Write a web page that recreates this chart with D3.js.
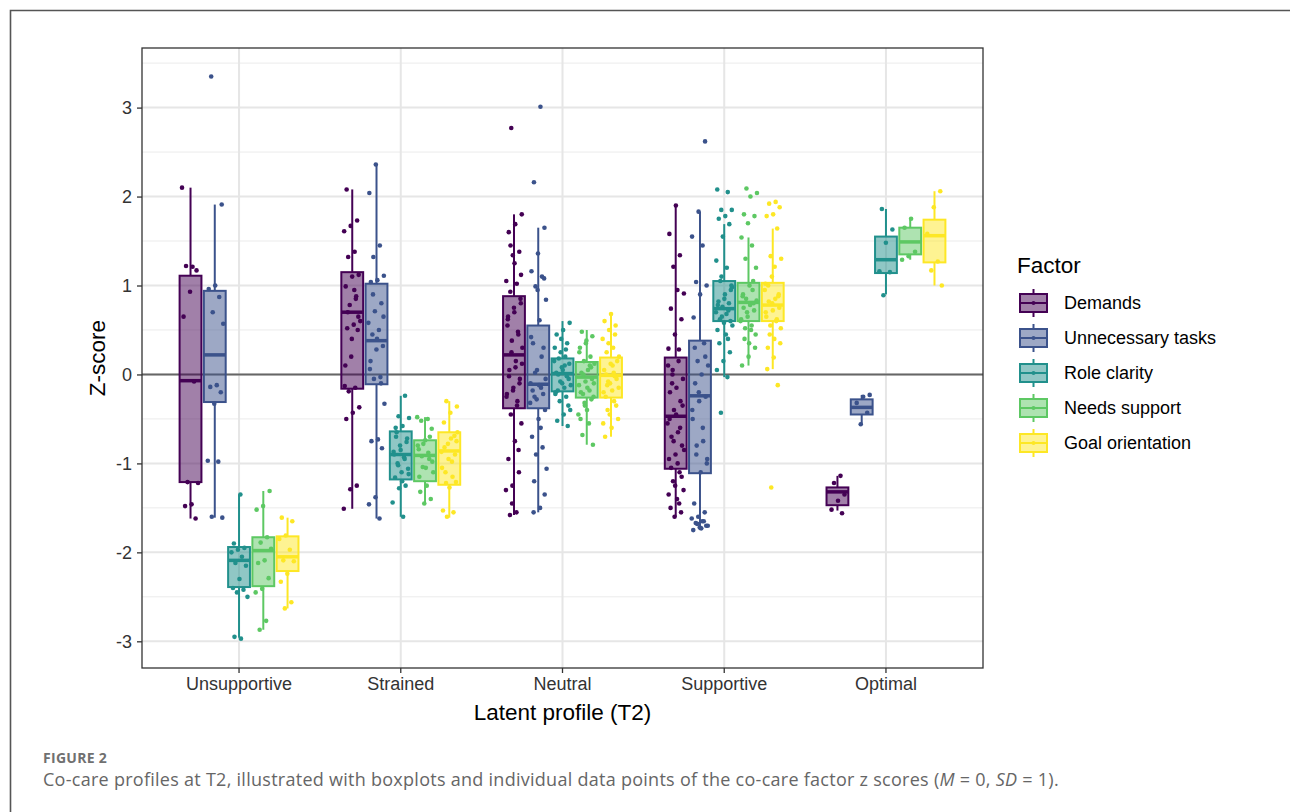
<!DOCTYPE html>
<html>
<head>
<meta charset="utf-8">
<script src="https://cdn.jsdelivr.net/npm/d3@7.9.0/dist/d3.min.js"></script>
<style>
  body { margin: 0; background: #fff; }
  svg { display: block; }
</style>
</head>
<body>
<svg width="1290" height="812"></svg>
<script>
const profiles = ['Unsupportive', 'Strained', 'Neutral', 'Supportive', 'Optimal'];
const factors = ['Demands', 'Unnecessary tasks', 'Role clarity', 'Needs support', 'Goal orientation'];
const factorColors = ['#440154', '#3b528b', '#21908c', '#5dc863', '#fde725'];
const yTicks = [-3, -2, -1, 0, 1, 2, 3];

// boxplot stats, one row per profile: [lower whisker, q1, median, q3, upper whisker]
const demandsBox = [[-1.62, -1.21, -0.07, 1.11, 2.10], [-1.51, -0.16, 0.70, 1.15, 2.08], [-1.58, -0.38, 0.22, 0.88, 1.80], [-1.60, -1.06, -0.47, 0.19, 1.90], [-1.53, -1.47, -1.32, -1.27, -1.14]];
const unnecessaryBox = [[-1.61, -0.31, 0.22, 0.94, 1.91], [-1.62, -0.11, 0.38, 1.02, 2.36], [-1.55, -0.38, -0.11, 0.55, 1.65], [-1.75, -1.11, -0.24, 0.38, 1.83], [-0.56, -0.45, -0.37, -0.28, -0.23]];
const roleBox = [[-2.96, -2.39, -2.09, -1.94, -1.35], [-1.60, -1.18, -0.90, -0.64, -0.24], [-0.58, -0.19, 0.01, 0.18, 0.60], [-0.03, 0.60, 0.74, 1.05, 1.69], [0.90, 1.14, 1.29, 1.55, 1.86]];
const needsBox = [[-2.87, -2.38, -1.98, -1.83, -1.31], [-1.45, -1.20, -0.91, -0.74, -0.48], [-0.79, -0.26, -0.03, 0.14, 0.50], [0.10, 0.60, 0.81, 1.03, 1.54], [1.29, 1.35, 1.49, 1.65, 1.74]];
const goalBox = [[-2.63, -2.21, -2.05, -1.82, -1.61], [-1.61, -1.24, -0.86, -0.65, -0.30], [-0.70, -0.26, -0.01, 0.19, 0.69], [0.06, 0.60, 0.78, 1.03, 1.64], [1.00, 1.26, 1.56, 1.74, 2.06]];

// individual z scores, one list per profile
const demandsPts = [
  [2.10, 1.21, 1.22, 1.17, 0.93, 0.65, -0.08, -1.21, -1.22, -1.46, -1.48, -1.62],
  [2.08, 1.73, 1.67, 1.61, 1.38, 1.32, 1.12, 1.10, 0.99, 0.88, 0.78, 0.60, 0.56, 0.52, 0.50, 0.20, -0.13, -0.15, -0.19, -0.37, -0.43, -0.50, -1.25, -1.29, -1.51, 0.95, 0.70, 0.65, 0.40, 0.10, 0.85],
  [2.77, 1.80, 1.69, 1.60, 1.38, 1.34, 1.05, 1.02, 0.93, 0.80, 0.70, 0.62, 0.45, 0.38, 0.30, 0.15, 0.05, -0.05, -0.15, -0.22, -0.30, -0.45, -0.55, -0.75, -0.95, -1.10, -1.25, -1.30, -1.55, -1.58, 0.85, 0.75, 0.55, 0.48, 0.25, 0.12, 0.08, -0.02, -0.10, -0.18, -0.25, -0.35, 1.45, 1.12, 1.25, 0.65, -0.85, -1.45],
  [1.90, 1.58, 1.34, 1.21, 0.91, 0.95, 0.74, 0.62, 0.45, 0.29, 0.28, 0.00, -0.05, -0.15, -0.20, -0.30, -0.40, -0.55, -0.65, -0.70, -0.80, -0.90, -0.95, -1.10, -1.20, -1.30, -1.40, -1.50, -1.55, -1.60, 0.10, 0.15, -0.10, -0.35, -0.45, -0.50, -0.60, -0.75, -0.85, -1.00, -1.05, -1.15, -1.25, -1.35, -1.45, 0.05],
  [-1.14, -1.22, -1.35, -1.42, -1.52, -1.56]
];
const unnecessaryPts = [
  [3.35, 1.91, 1.00, 0.96, 0.87, 0.70, 0.57, -0.12, -0.14, -0.20, -0.33, -0.97, -0.98, -1.60, -1.61],
  [2.36, 2.04, 1.45, 1.32, 1.11, 1.06, 1.04, 0.80, 0.71, 0.58, 0.50, 0.45, 0.32, 0.28, 0.06, -0.03, -0.05, -0.33, -0.73, -0.75, -0.83, -1.38, -1.46, -1.62, 0.90, 0.65, 0.40, 0.15, -0.10],
  [3.01, 2.16, 1.65, 1.36, 1.16, 1.10, 0.99, 0.84, 0.61, 0.35, 0.30, 0.05, -0.10, -0.15, -0.25, -0.40, -0.50, -0.70, -0.82, -0.90, -1.06, -1.50, -1.55, 1.08, 0.95, 0.42, 0.20, 0.02, -0.05, -0.12, -0.18, -0.22, -0.28, -0.32, -0.60, -1.20, -1.35],
  [2.62, 1.83, 1.55, 1.45, 1.04, 1.00, 0.90, 0.64, 0.35, 0.15, 0.10, 0.00, -0.10, -0.25, -0.30, -0.50, -0.75, -0.80, -0.95, -1.10, -1.45, -1.55, -1.60, -1.62, -1.65, -1.67, -1.70, -1.72, -1.75, -1.65, -1.68, -1.70, -1.73, 0.30, 0.20, -0.20, -0.40, -0.60, -0.90, -1.00],
  [-0.23, -0.25, -0.32, -0.43, -0.56]
];
const rolePts = [
  [-1.35, -1.90, -1.95, -1.97, -2.00, -2.05, -2.12, -2.15, -2.30, -2.40, -2.42, -2.45, -2.50, -2.97, -2.95],
  [-0.24, -0.47, -0.49, -0.58, -0.70, -0.76, -0.80, -0.87, -0.93, -1.00, -1.06, -1.10, -1.16, -1.25, -1.28, -1.44, -1.60, -0.65, -0.72, -0.85, -0.90, -0.95, -1.02, -1.12, -1.20, -0.60],
  [0.58, 0.50, 0.45, 0.35, 0.25, 0.15, 0.10, 0.00, -0.05, -0.10, -0.20, -0.25, -0.30, -0.40, -0.45, -0.52, -0.58, 0.40, 0.30, 0.20, 0.18, 0.12, 0.05, 0.02, -0.02, -0.08, -0.12, -0.15, -0.18, -0.35, 0.08, -0.22, 0.28],
  [2.08, 2.05, 1.85, 1.85, 1.78, 1.75, 1.69, 1.55, 1.28, 1.20, 1.05, 0.95, 0.85, 0.78, 0.72, 0.65, 0.55, 0.45, 0.35, 0.25, 0.15, 0.05, -0.03, -0.43, 1.00, 0.90, 0.82, 0.80, 0.76, 0.70, 0.68, 0.62, 0.60, 0.58, 0.50, 0.40, 1.10, 0.98],
  [1.86, 1.63, 1.48, 1.16, 1.15, 0.89]
];
const needsPts = [
  [-1.31, -1.48, -1.52, -1.83, -1.89, -1.96, -2.09, -2.12, -2.29, -2.41, -2.45, -2.77, -2.87],
  [-0.48, -0.50, -0.52, -0.61, -0.74, -0.84, -0.95, -1.04, -1.10, -1.25, -1.32, -1.40, -1.45, -0.80, -0.88, -0.92, -0.98, -1.05, -1.15, -0.70, -0.78],
  [0.48, 0.43, 0.35, 0.25, 0.10, 0.00, -0.10, -0.15, -0.20, -0.28, -0.35, -0.45, -0.55, -0.68, -0.79, 0.38, 0.30, 0.20, 0.15, 0.12, 0.05, 0.02, -0.05, -0.08, -0.12, -0.18, -0.22, -0.25, -0.40, -0.50, 0.08, -0.32],
  [2.09, 2.04, 2.00, 1.80, 1.78, 1.70, 1.54, 1.45, 1.30, 1.20, 1.00, 0.90, 0.80, 0.70, 0.60, 0.50, 0.40, 0.30, 0.20, 0.10, 0.95, 0.85, 0.83, 0.78, 0.75, 0.72, 0.65, 0.62, 0.55, 0.52, 0.45, 0.35, 0.88, 1.05],
  [1.75, 1.65, 1.38, 1.33, 1.29]
];
const goalPts = [
  [-1.61, -1.65, -1.81, -1.85, -1.97, -2.09, -2.10, -2.24, -2.33, -2.56, -2.63],
  [-0.30, -0.36, -0.43, -0.54, -0.69, -0.78, -0.87, -0.98, -1.10, -1.21, -1.27, -1.53, -1.55, -1.60, -0.65, -0.72, -0.82, -0.90, -0.95, -1.05, -1.15, -1.22, -0.75],
  [0.68, 0.60, 0.45, 0.35, 0.20, 0.10, 0.00, -0.05, -0.10, -0.20, -0.30, -0.40, -0.50, -0.60, -0.70, 0.55, 0.50, 0.40, 0.30, 0.25, 0.15, 0.12, 0.05, -0.02, -0.08, -0.15, -0.18, -0.25, -0.35, -0.45, -0.55, 0.02, -0.12],
  [1.94, 1.92, 1.88, 1.80, 1.78, 1.64, 1.33, 1.30, 1.21, 1.00, 0.90, 0.80, 0.70, 0.60, 0.45, 0.35, 0.19, 0.06, -0.12, -1.27, 0.95, 0.85, 0.82, 0.75, 0.72, 0.65, 0.62, 0.55, 0.52, 0.40, 0.30, 0.88, 1.10, 1.02],
  [2.06, 1.88, 1.58, 1.27, 1.17, 1.00]
];

const boxes = [demandsBox, unnecessaryBox, roleBox, needsBox, goalBox];
const points = [demandsPts, unnecessaryPts, rolePts, needsPts, goalPts];

const svg = d3.select('svg');
const panel = { left: 142, top: 48, right: 983, bottom: 668 };

// outer figure frame (left and top only)
svg.append('path')
  .attr('d', 'M10.5,812 V10.5 H1290')
  .attr('fill', 'none')
  .attr('stroke', '#555')
  .attr('stroke-width', 1.6);

const x = d3.scaleBand().domain(profiles)
  .range([panel.left, panel.right])
  .paddingInner(0).paddingOuter(0.1);
const xf = d3.scaleBand().domain(factors)
  .range([-x.bandwidth() * 0.375, x.bandwidth() * 0.375]);
const y = d3.scaleLinear().domain([-3.30, 3.67]).range([panel.bottom, panel.top]);
const color = d3.scaleOrdinal(factors, factorColors);
const boxW = xf.bandwidth() * 0.9;

// grid
const grid = svg.append('g');
d3.range(-3, 3.6, 0.5).filter(v => Math.abs(v % 1) > 0.1).forEach(v => {
  grid.append('line').attr('x1', panel.left).attr('x2', panel.right)
    .attr('y1', y(v)).attr('y2', y(v)).attr('stroke', '#ebebeb').attr('stroke-width', 1);
});
yTicks.forEach(v => {
  grid.append('line').attr('x1', panel.left).attr('x2', panel.right)
    .attr('y1', y(v)).attr('y2', y(v)).attr('stroke', '#e6e6e6').attr('stroke-width', 2);
});
profiles.forEach(p => {
  const cx = x(p) + x.bandwidth() / 2;
  grid.append('line').attr('x1', cx).attr('x2', cx)
    .attr('y1', panel.top).attr('y2', panel.bottom).attr('stroke', '#e6e6e6').attr('stroke-width', 2);
});

// zero reference line
svg.append('line').attr('x1', panel.left).attr('x2', panel.right)
  .attr('y1', y(0)).attr('y2', y(0)).attr('stroke', '#666').attr('stroke-width', 2);

// boxes
const marks = svg.append('g');
factors.forEach((f, fi) => {
  profiles.forEach((p, pi) => {
    const [lo, q1, med, q3, hi] = boxes[fi][pi];
    const cx = x(p) + x.bandwidth() / 2 + xf(f) + xf.bandwidth() / 2;
    const g = marks.append('g');
    g.append('line').attr('x1', cx).attr('x2', cx).attr('y1', y(hi)).attr('y2', y(q3))
      .attr('stroke', color(f)).attr('stroke-width', 2);
    g.append('line').attr('x1', cx).attr('x2', cx).attr('y1', y(q1)).attr('y2', y(lo))
      .attr('stroke', color(f)).attr('stroke-width', 2);
    g.append('rect').attr('x', cx - boxW / 2).attr('width', boxW)
      .attr('y', y(q3)).attr('height', y(q1) - y(q3))
      .attr('fill', color(f)).attr('fill-opacity', 0.5)
      .attr('stroke', color(f)).attr('stroke-width', 2);
    g.append('line').attr('x1', cx - boxW / 2).attr('x2', cx + boxW / 2)
      .attr('y1', y(med)).attr('y2', y(med))
      .attr('stroke', color(f)).attr('stroke-width', 3.5);
  });
});

// jittered points, offset spread evenly per index
factors.forEach((f, fi) => {
  profiles.forEach((p, pi) => {
    const cx = x(p) + x.bandwidth() / 2 + xf(f) + xf.bandwidth() / 2;
    marks.selectAll(null)
      .data(points[fi][pi])
      .join('circle')
      .attr('cx', (d, i) => cx + (((i * 0.618034 + fi * 0.29 + pi * 0.17) % 1) * 2 - 1) * 8.5)
      .attr('cy', d => y(d))
      .attr('r', 2.3)
      .attr('fill', color(f));
  });
});

// panel border
svg.append('rect')
  .attr('x', panel.left).attr('y', panel.top)
  .attr('width', panel.right - panel.left).attr('height', panel.bottom - panel.top)
  .attr('fill', 'none').attr('stroke', '#333').attr('stroke-width', 1.3);

// axes
const font = 'Liberation Sans, Arial, sans-serif';
const yAxis = svg.append('g').attr('transform', `translate(${panel.left},0)`)
  .call(d3.axisLeft(y).tickValues(yTicks).tickSize(5).tickPadding(5).tickFormat(d => String(d)));
const xAxis = svg.append('g').attr('transform', `translate(0,${panel.bottom})`)
  .call(d3.axisBottom(x).tickSize(5).tickPadding(4));
[yAxis, xAxis].forEach(a => {
  a.select('.domain').remove();
  a.selectAll('.tick line').attr('stroke', '#333').attr('stroke-width', 1.3);
  a.selectAll('.tick text').attr('fill', '#333').style('font-family', font).style('font-size', '18px');
});

svg.append('text')
  .attr('x', (panel.left + panel.right) / 2).attr('y', 720)
  .attr('text-anchor', 'middle')
  .style('font-family', font).style('font-size', '22.5px')
  .text('Latent profile (T2)');
svg.append('text')
  .attr('transform', `translate(105,${(panel.top + panel.bottom) / 2}) rotate(-90)`)
  .attr('text-anchor', 'middle')
  .style('font-family', font).style('font-size', '22.5px')
  .text('Z-score');

// legend
const legend = svg.append('g').attr('transform', 'translate(1018,0)');
legend.append('text').attr('x', -1).attr('y', 273)
  .style('font-family', font).style('font-size', '22.5px').text('Factor');
factors.forEach((f, i) => {
  const ly = 303 + i * 35;
  const k = legend.append('g');
  k.append('line').attr('x1', 15.5).attr('x2', 15.5).attr('y1', ly - 14).attr('y2', ly + 14)
    .attr('stroke', color(f)).attr('stroke-width', 2);
  k.append('rect').attr('x', 2).attr('y', ly - 9).attr('width', 27).attr('height', 18)
    .attr('fill', '#fff').attr('stroke', 'none');
  k.append('rect').attr('x', 2).attr('y', ly - 9).attr('width', 27).attr('height', 18)
    .attr('fill', color(f)).attr('fill-opacity', 0.5)
    .attr('stroke', color(f)).attr('stroke-width', 2);
  k.append('line').attr('x1', 2).attr('x2', 29).attr('y1', ly).attr('y2', ly)
    .attr('stroke', color(f)).attr('stroke-width', 2);
  k.append('circle').attr('cx', 15.5).attr('cy', ly).attr('r', 2).attr('fill', color(f));
  legend.append('text').attr('x', 46).attr('y', ly).attr('dy', '0.35em')
    .style('font-family', font).style('font-size', '18px').text(f);
});

// caption
svg.append('text').attr('x', 43).attr('y', 763)
  .attr('fill', '#707070')
  .style('font-family', 'Open Sans, sans-serif').style('font-size', '14px').style('font-weight', 700)
  .style('letter-spacing', '0.3px')
  .text('FIGURE 2');
const cap = svg.append('text').attr('x', 43).attr('y', 786)
  .attr('fill', '#666')
  .style('font-family', 'Open Sans, sans-serif').style('font-size', '18px')
  .style('letter-spacing', '0.27px');
cap.append('tspan').text('Co-care profiles at T2, illustrated with boxplots and individual data points of the co-care factor z scores (');
cap.append('tspan').style('font-style', 'italic').text('M');
cap.append('tspan').text(' = 0, ');
cap.append('tspan').style('font-style', 'italic').text('SD');
cap.append('tspan').text(' = 1).');
</script>
</body>
</html>
